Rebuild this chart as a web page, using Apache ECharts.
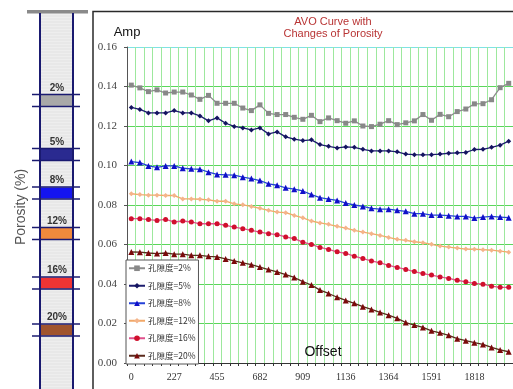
<!DOCTYPE html>
<html><head><meta charset="utf-8">
<script src="https://cdn.jsdelivr.net/npm/echarts@6/dist/echarts.min.js"></script>
<style>html,body{margin:0;padding:0;background:#fff;}#c{width:513px;height:389px;}</style>
</head><body><div id="c"></div>
<script>
var offsets = ['0','45','91','136','182','227','273','318','364','409','455','500','545','591','636','682','727','773','818','864','909','955','1000','1045','1091','1136','1182','1227','1273','1318','1364','1409','1455','1500','1545','1591','1636','1682','1727','1773','1818','1864','1909','1955','2000'];
var seriesNames = ['孔隙度=2%','孔隙度=5%','孔隙度=8%','孔隙度=12%','孔隙度=16%','孔隙度=20%'];
var por2 = [0.1407,0.1393,0.1374,0.1383,0.1367,0.1372,0.1372,0.1357,0.1335,0.1355,0.1315,0.1315,0.1315,0.1291,0.1278,0.1307,0.1264,0.1258,0.1258,0.1244,0.1234,0.1254,0.1222,0.1241,0.1227,0.1214,0.1226,0.1200,0.1197,0.1209,0.1227,0.1207,0.1216,0.1226,0.1258,0.1229,0.1259,0.1247,0.1273,0.1286,0.1312,0.1313,0.1333,0.1394,0.1416];
var por5 = [0.1294,0.1284,0.1266,0.1266,0.1266,0.1278,0.1266,0.1266,0.1251,0.1226,0.1241,0.1214,0.1198,0.1190,0.1180,0.1190,0.1160,0.1170,0.1145,0.1133,0.1126,0.1130,0.1106,0.1097,0.1089,0.1094,0.1092,0.1082,0.1074,0.1074,0.1074,0.1069,0.1058,0.1055,0.1054,0.1055,0.1058,0.1062,0.1064,0.1066,0.1081,0.1082,0.1092,0.1103,0.1123];
var por8 = [0.1020,0.1015,0.0998,0.0991,0.0998,0.0998,0.0986,0.0983,0.0981,0.0966,0.0955,0.0953,0.0951,0.0941,0.0934,0.0924,0.0907,0.0900,0.0887,0.0880,0.0871,0.0853,0.0837,0.0830,0.0823,0.0810,0.0800,0.0793,0.0783,0.0779,0.0779,0.0773,0.0768,0.0756,0.0756,0.0749,0.0749,0.0746,0.0742,0.0742,0.0734,0.0739,0.0742,0.0739,0.0736];
var por12 = [0.0857,0.0853,0.0850,0.0850,0.0848,0.0848,0.0831,0.0831,0.0829,0.0826,0.0819,0.0819,0.0806,0.0801,0.0793,0.0783,0.0773,0.0764,0.0761,0.0747,0.0735,0.0719,0.0709,0.0702,0.0692,0.0683,0.0672,0.0663,0.0655,0.0646,0.0636,0.0626,0.0621,0.0614,0.0609,0.0601,0.0592,0.0587,0.0582,0.0577,0.0576,0.0574,0.0571,0.0566,0.0561];
var por16 = [0.0731,0.0731,0.0726,0.0722,0.0727,0.0714,0.0719,0.0714,0.0705,0.0705,0.0705,0.0697,0.0688,0.0680,0.0672,0.0663,0.0655,0.0650,0.0638,0.0630,0.0612,0.0600,0.0585,0.0575,0.0563,0.0555,0.0541,0.0529,0.0517,0.0507,0.0494,0.0484,0.0474,0.0463,0.0453,0.0445,0.0436,0.0428,0.0419,0.0411,0.0403,0.0399,0.0389,0.0383,0.0383];
var por20 = [0.0562,0.0561,0.0557,0.0554,0.0557,0.0551,0.0551,0.0545,0.0545,0.0540,0.0537,0.0527,0.0517,0.0507,0.0498,0.0486,0.0473,0.0461,0.0448,0.0433,0.0412,0.0395,0.0369,0.0352,0.0333,0.0317,0.0302,0.0285,0.0271,0.0256,0.0242,0.0226,0.0205,0.0192,0.0180,0.0163,0.0153,0.0140,0.0123,0.0113,0.0103,0.0094,0.0079,0.0066,0.0057];
var bandLabels = ['2%','5%','8%','12%','16%','20%'];

var allData = [por2, por5, por8, por12, por16, por20];
var lineColors = ['#8c8c8c','#1c1c6e','#2440d8','#f2a868','#e0508c','#5a2a1c'];
var markColors = ['#888888','#141460','#1010c8','#f4b48a','#d0102c','#7a0a0a'];
var symbols = ['rect','diamond','triangle','diamond','circle','triangle'];
var bandColors = ['#a8a8a8','#2a2a90','#1414f0','#f08a3c','#f03434','#a0542e'];
var bandTops = [95, 149, 187.5, 228, 277.5, 324.5];

var chart = echarts.init(document.getElementById('c'), null, {renderer:'canvas'});

var graphics = [];
graphics.push({type:'polyline', silent:true, z:-1, shape:{points:[[93,389],[93,11.5],[513,11.5]]}, style:{stroke:'#2a2a2a', lineWidth:1.5, fill:null}});
graphics.push({type:'rect', silent:true, shape:{x:40,y:13,width:33,height:380}, style:{fill:'#eeeeee'}});
for (var s = 16; s < 389; s += 3) {
  graphics.push({type:'line', silent:true, shape:{x1:41,y1:s,x2:72,y2:s}, style:{stroke:'#e2e2e2', lineWidth:1}});
}
graphics.push({type:'rect', silent:true, shape:{x:27,y:10,width:61,height:3.5}, style:{fill:'#8a8a8a'}});
graphics.push({type:'line', silent:true, shape:{x1:40,y1:13,x2:40,y2:389}, style:{stroke:'#1a1a70', lineWidth:2}});
graphics.push({type:'line', silent:true, shape:{x1:73,y1:13,x2:73,y2:389}, style:{stroke:'#1a1a70', lineWidth:2}});
for (var i = 0; i < bandLabels.length; i++) {
  var t = bandTops[i];
  graphics.push({type:'rect', silent:true, shape:{x:41,y:t,width:31,height:11}, style:{fill:bandColors[i]}});
  graphics.push({type:'line', silent:true, shape:{x1:32,y1:t-0.5,x2:80,y2:t-0.5}, style:{stroke:'#1a1a70', lineWidth:1.5}});
  graphics.push({type:'line', silent:true, shape:{x1:32,y1:t+11.5,x2:80,y2:t+11.5}, style:{stroke:'#1a1a70', lineWidth:1.5}});
  graphics.push({type:'text', silent:true, x:57, y:t-7, style:{text:bandLabels[i], fill:'#333', font:'bold 10px Arial', align:'center', verticalAlign:'middle'}});
}
graphics.push({type:'text', silent:true, x:21, y:207, rotation:Math.PI/2, style:{text:'Porosity (%)', fill:'#555', font:'14px Arial', align:'center', verticalAlign:'middle'}});
graphics.push({type:'text', silent:true, x:333, y:22, style:{text:'AVO Curve with', fill:'#b83434', font:'11px Arial', align:'center', verticalAlign:'middle'}});
graphics.push({type:'text', silent:true, x:333, y:34, style:{text:'Changes of Porosity', fill:'#b83434', font:'11px Arial', align:'center', verticalAlign:'middle'}});
graphics.push({type:'text', silent:true, x:323, y:352, z:10, style:{text:'Offset', fill:'#111', font:'14px Arial', align:'center', verticalAlign:'middle'}});

var series = allData.map(function(d, i){
  return {
    name: seriesNames[i], type:'line', data:d,
    symbol: symbols[i], symbolSize: (symbols[i]==='triangle'?6:5),
    showSymbol:true, showAllSymbol:true,
    lineStyle:{color:lineColors[i], width:1.3},
    itemStyle:{color:markColors[i]},
    emphasis:{disabled:true}, animation:false
  };
});

var yGridColors = ['#5cd65c','#5cd65c','#5cd65c','#5cd65c','#5cd65c','#5cd65c','#5cd65c','#5cd65c','#7fe3e3'];

chart.setOption({
  animation:false,
  backgroundColor:'#ffffff',
  graphic: graphics,
  grid:{left:127, top:47, width:388, height:316, containLabel:false},
  legend:{
    orient:'vertical', left:126, top:260, data:seriesNames,
    itemWidth:16, itemHeight:7, itemGap:9,
    padding:[4,3,4,2], backgroundColor:'#ffffff', borderColor:'#555', borderWidth:1,
    textStyle:{fontSize:8.5, color:'#333', fontFamily:'Noto Sans CJK SC', padding:[0,0,0,-2]}, z:20
  },
  xAxis:{
    type:'category', data:offsets, boundaryGap:true,
    axisLine:{lineStyle:{color:'#333', width:1}},
    axisTick:{show:true, interval:0, length:3, lineStyle:{color:'#333'}},
    axisLabel:{interval:4, fontSize:10, color:'#333', fontFamily:'Liberation Serif', margin:9},
    splitLine:{show:true, interval:0, lineStyle:{color:'#9de89d', width:1}}
  },
  yAxis:{
    type:'value', min:0, max:0.16, interval:0.02,
    name:'Amp', nameLocation:'end', nameGap:8,
    nameTextStyle:{fontSize:13, color:'#111', fontFamily:'Arial', align:'center'},
    axisLine:{show:true, lineStyle:{color:'#555', width:1}},
    axisTick:{show:true, length:3, lineStyle:{color:'#555'}},
    axisLabel:{fontSize:11, color:'#444', fontFamily:'Liberation Serif', margin:10, formatter:function(v){return v.toFixed(2);}},
    splitLine:{show:true, lineStyle:{color:yGridColors, width:1.2}}
  },
  series: series
});
</script></body></html>
